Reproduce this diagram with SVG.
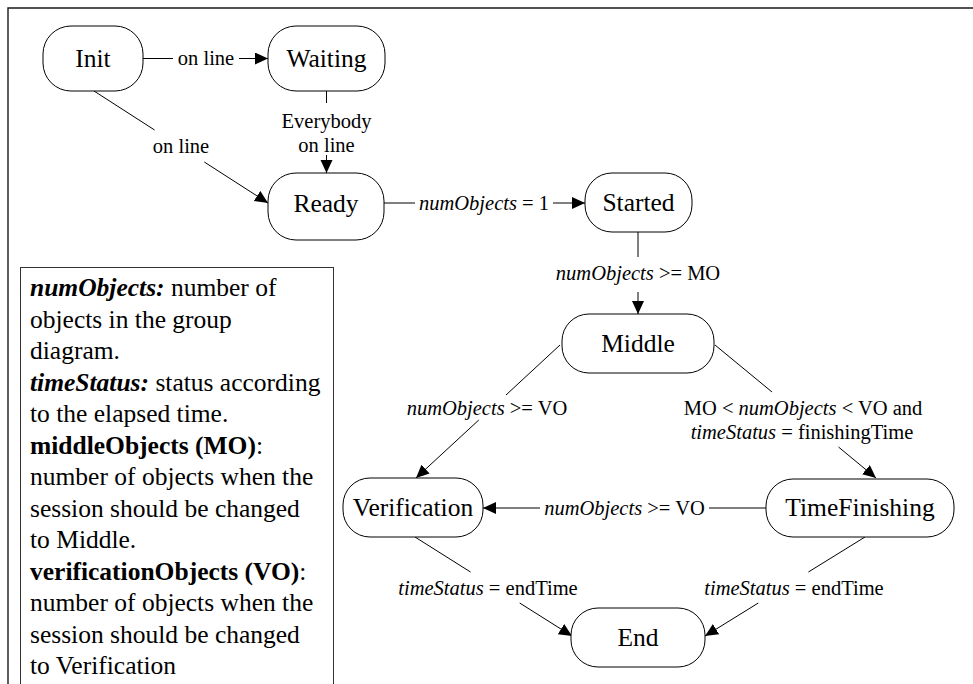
<svg xmlns="http://www.w3.org/2000/svg" width="973" height="684" viewBox="0 0 973 684">
  <style>
    .state rect { fill: #ffffff; stroke: #000000; stroke-width: 1; }
    .state text { font-family: "Liberation Serif", "Times New Roman", serif; font-size: 25.5px; fill: #000000; text-anchor: middle; }
    .edge path { fill: none; stroke: #000000; stroke-width: 1; marker-end: url(#arrow); }
    .edge text { font-family: "Liberation Serif", "Times New Roman", serif; font-size: 20.5px; fill: #000000; text-anchor: middle; }
    .it { font-style: italic; }
    .legend text { font-family: "Liberation Serif", "Times New Roman", serif; font-size: 25.5px; fill: #000000; }
    .bi { font-weight: bold; font-style: italic; }
    .b { font-weight: bold; }
  </style>
  <defs>
    <marker id="arrow" markerUnits="userSpaceOnUse" markerWidth="14" markerHeight="14" refX="13" refY="6" orient="auto">
      <path d="M0,0 L13,6 L0,12 Z" fill="#000000"/>
    </marker>
  </defs>

  <rect width="973" height="684" fill="#ffffff"/>

  <!-- page frame (top and left edges) -->
  <path d="M8,684 V8 H973" fill="none" stroke="#1a1a1a" stroke-width="1.4"/>

  <!-- legend -->
  <g id="legend" class="legend">
    <rect x="20.5" y="267.5" width="313" height="440" fill="#ffffff" stroke="#333333" stroke-width="1"/>
    <text x="30" y="296"><tspan class="bi">numObjects:</tspan> number of</text>
    <text x="30" y="327.5">objects in the group</text>
    <text x="30" y="359">diagram.</text>
    <text x="30" y="390.5"><tspan class="bi">timeStatus:</tspan> status according</text>
    <text x="30" y="422">to the elapsed time.</text>
    <text x="30" y="453.5"><tspan class="b">middleObjects (MO)</tspan>:</text>
    <text x="30" y="485">number of objects when the</text>
    <text x="30" y="516.5">session should be changed</text>
    <text x="30" y="548">to Middle.</text>
    <text x="30" y="579.5"><tspan class="b">verificationObjects (VO)</tspan>:</text>
    <text x="30" y="611">number of objects when the</text>
    <text x="30" y="642.5">session should be changed</text>
    <text x="30" y="674">to Verification</text>
  </g>

  <!-- connectors -->
  <g id="connectors">
    <g class="edge" id="init-waiting">
      <path d="M143,58.5 H173 M239,58.5 H268"/>
      <text x="206" y="65">on line</text>
    </g>
    <g class="edge" id="init-ready">
      <path d="M94,91 L154.6,130 M204.3,162 L268,203"/>
      <text x="181" y="153">on line</text>
    </g>
    <g class="edge" id="waiting-ready">
      <path d="M326.5,91 V103 M326.5,155 V173"/>
      <text x="326.5" y="128">Everybody</text>
      <text x="326.5" y="152">on line</text>
    </g>
    <g class="edge" id="ready-started">
      <path d="M384,203 H415 M553,203 H585"/>
      <text x="484" y="210"><tspan class="it">numObjects</tspan> = 1</text>
    </g>
    <g class="edge" id="started-middle">
      <path d="M638,232 V257 M638,292 V314"/>
      <text x="638" y="279.5"><tspan class="it">numObjects</tspan> &gt;= MO</text>
    </g>
    <g class="edge" id="middle-verification">
      <path d="M560,345 L506,395 M478.8,420 L416,478"/>
      <text x="487" y="415"><tspan class="it">numObjects</tspan> &gt;= VO</text>
    </g>
    <g class="edge" id="middle-timefinishing">
      <path d="M715,345 L772,392 M838.5,447 L876,478"/>
      <text x="803" y="415">MO &lt; <tspan class="it">numObjects</tspan> &lt; VO and</text>
      <text x="802" y="439"><tspan class="it">timeStatus</tspan> = finishingTime</text>
    </g>
    <g class="edge" id="timefinishing-verification">
      <path d="M766,508 H709 M540,508 H483"/>
      <text x="624.5" y="515"><tspan class="it">numObjects</tspan> &gt;= VO</text>
    </g>
    <g class="edge" id="verification-end">
      <path d="M415,537 L470.5,572 M519.7,603 L572,636"/>
      <text x="488" y="595"><tspan class="it">timeStatus</tspan> = endTime</text>
    </g>
    <g class="edge" id="timefinishing-end">
      <path d="M865,537 L808.4,572 M758.3,603 L705,636"/>
      <text x="794" y="595"><tspan class="it">timeStatus</tspan> = endTime</text>
    </g>
  </g>

  <!-- states -->
  <g id="init" class="state">
    <rect x="43" y="26" width="100" height="65" rx="28" ry="28"/>
    <text x="93" y="67">Init</text>
  </g>
  <g id="waiting" class="state">
    <rect x="268" y="26" width="117" height="65" rx="28" ry="28"/>
    <text x="326.5" y="67">Waiting</text>
  </g>
  <g id="ready" class="state">
    <rect x="268" y="173" width="116" height="67" rx="28" ry="28"/>
    <text x="326" y="211.5">Ready</text>
  </g>
  <g id="started" class="state">
    <rect x="585" y="173" width="107" height="59" rx="27" ry="27"/>
    <text x="638.5" y="211">Started</text>
  </g>
  <g id="middle" class="state">
    <rect x="562" y="314" width="152" height="59" rx="27" ry="27"/>
    <text x="638" y="352">Middle</text>
  </g>
  <g id="verification" class="state">
    <rect x="343" y="478" width="140" height="59" rx="27" ry="27"/>
    <text x="413" y="516">Verification</text>
  </g>
  <g id="timefinishing" class="state">
    <rect x="766" y="479" width="188" height="58" rx="27" ry="27"/>
    <text x="860" y="516">TimeFinishing</text>
  </g>
  <g id="end" class="state">
    <rect x="571" y="608" width="134" height="59" rx="27" ry="27"/>
    <text x="638" y="646">End</text>
  </g>
</svg>
